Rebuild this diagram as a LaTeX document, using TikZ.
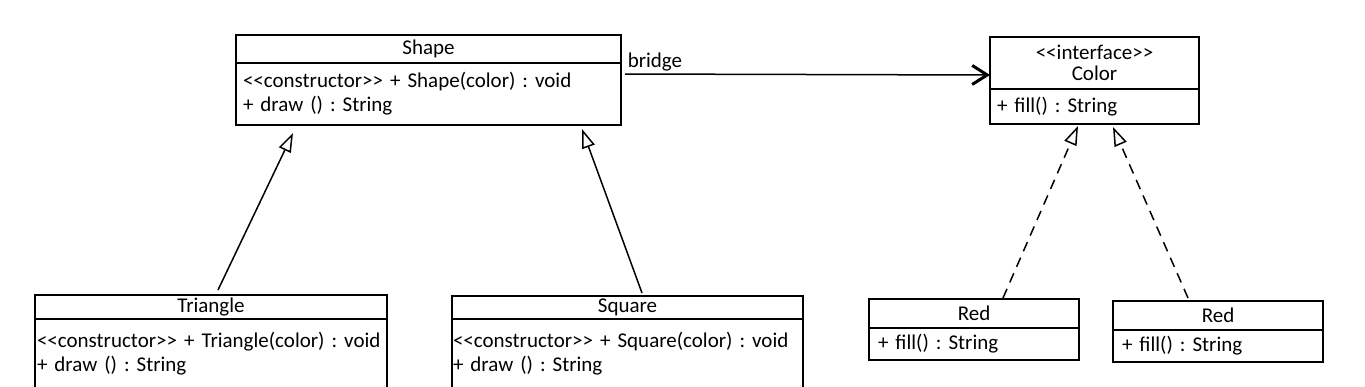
\documentclass[tikz,border=0pt]{standalone}
\usepackage{fontspec}
\setmainfont{Carlito}
\usetikzlibrary{positioning, arrows.meta}
\newcommand{\stereo}[1]{<\kern0pt<#1>\kern0pt>}
\frenchspacing

\begin{document}
\begin{tikzpicture}[x=1pt, y=-1pt,
  classname/.style={draw, line width=2.1pt, outer sep=0pt, inner sep=0pt,
                    align=center, font=\fontsize{21}{21}\selectfont},
  classbody/.style={draw, line width=2.1pt, outer sep=0pt, inner ysep=0pt,
                    align=left, font=\fontsize{21}{24}\selectfont},
  extends/.style={line width=1.5pt, -{Triangle[open, length=19pt, width=13pt]}},
  realizes/.style={extends, dash pattern=on 10pt off 7pt}]
  \clip (0,0) rectangle (1365,386);
  % Shape
  \node[classname, minimum width=385pt, minimum height=28pt] (shapeT) at (428.5,49) {Shape};
  \node[classbody, below=0pt of shapeT, text width=371pt, inner xsep=7pt, minimum height=62pt] (shapeB)
      {\stereo{constructor} + Shape(color) : void\\+ draw () : String};
  % Color interface
  \node[classname, minimum width=209pt, minimum height=52pt] (colorT) at (1094.5,63)
      {\stereo{interface}\\Color};
  \node[classbody, below=0pt of colorT, text width=195pt, inner xsep=7pt, minimum height=35pt] (colorB)
      {+ fill() : String};
  % Triangle
  \node[classname, minimum width=352pt, minimum height=24pt] (triT) at (211,307) {Triangle};
  \node[classbody, below=0pt of triT, text width=348pt, inner xsep=2pt, minimum height=70pt] (triB)
      {\stereo{constructor} + Triangle(color) : void\\+ draw () : String};
  % Square
  \node[classname, minimum width=351pt, minimum height=23pt] (sqT) at (627.5,307.5) {Square};
  \node[classbody, below=0pt of sqT, text width=349pt, inner xsep=1pt, minimum height=70pt] (sqB)
      {\stereo{constructor} + Square(color) : void\\+ draw () : String};
  % Red implementations
  \foreach \n/\x/\y in {redA/974/313.5, redB/1218/315.5} {
    \node[classname, minimum width=210pt, minimum height=29pt] (\n T) at (\x,\y) {Red};
    \node[classbody, below=0pt of \n T, text width=192pt, inner xsep=9pt, minimum height=32pt] (\n B)
        {+ fill() : String};
  }
  % bridge
  \draw[line width=1.5pt, -{Straight Barb[length=15pt, width=19pt, line width=3pt]}]
    ([xshift=4pt, yshift=-11pt]shapeB.north east) -- ([yshift=-12pt]colorT.west)
    node[pos=0, above right, inner sep=2pt] (bridgelbl) {\fontsize{21}{21}\selectfont bridge};
  % generalization
  \draw[extends] ([xshift=183pt, yshift=5pt]triT.north west) -- ([xshift=57pt, yshift=-8pt]shapeB.south west);
  \draw[extends] ([xshift=190pt, yshift=3pt]sqT.north west) -- ([xshift=346pt, yshift=-4pt]shapeB.south west);
  % realization
  \draw[realizes] ([xshift=134pt, yshift=1pt]redAT.north west) -- ([xshift=88pt, yshift=-2pt]colorB.south west);
  \draw[realizes] ([xshift=75pt, yshift=3pt]redBT.north west) -- ([xshift=123pt, yshift=-3pt]colorB.south west);
\end{tikzpicture}
\end{document}
